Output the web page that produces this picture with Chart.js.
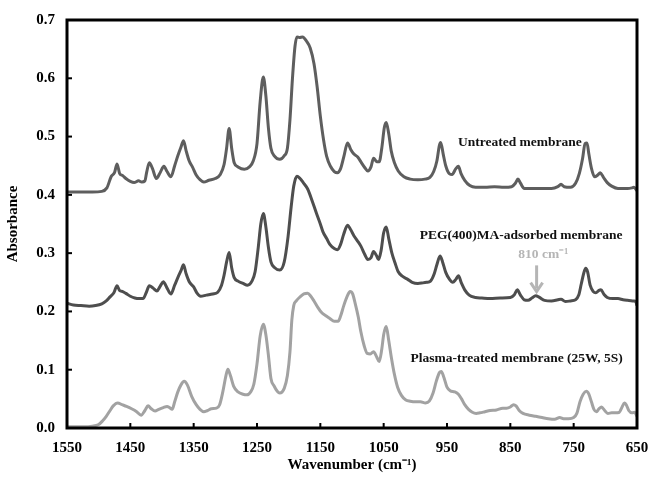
<!DOCTYPE html>
<html>
<head>
<meta charset="utf-8">
<script src="https://cdn.jsdelivr.net/npm/chart.js@4.4.1/dist/chart.umd.min.js"></script>
<style>
  body { margin: 0; background: #fff; }
  #wrap { width: 650px; height: 477px; position: relative; }
</style>
</head>
<body>
<div id="wrap"><canvas id="ftirChart"></canvas></div>
<script>
// wavenumber (cm-1) and absorbance
const untreatedX = [1550,1530,1510,1495,1487,1480,1475,1471,1467,1462,1457,1450,1444,1437,1432,1427,1424,1420,1415,1409,1403,1397,1392,1386,1380,1375,1370,1366,1362,1357,1352,1346,1340,1334,1326,1316,1308,1302,1298,1294,1290,1286,1280,1270,1262,1256,1250,1245,1240,1236,1232,1228,1222,1214,1207,1202,1198,1194,1190,1187,1183,1178,1172,1166,1160,1155,1150,1145,1140,1134,1128,1123,1118,1113,1107,1102,1097,1091,1085,1080,1075,1070,1066,1061,1057,1053,1049,1046,1042,1038,1033,1027,1018,1008,996,985,977,971,966,962,960,956,952,946,942,936,932,928,922,914,905,890,875,860,848,842,838,834,828,815,800,785,775,770,765,755,747,741,736,732,729,726,722,717,712,708,703,697,690,680,665,658,655,652,650];
const untreatedY = [0.405,0.405,0.405,0.406,0.412,0.432,0.438,0.453,0.437,0.433,0.428,0.423,0.421,0.424,0.422,0.424,0.440,0.455,0.445,0.428,0.438,0.449,0.440,0.431,0.450,0.467,0.482,0.493,0.476,0.458,0.448,0.434,0.426,0.422,0.425,0.428,0.435,0.452,0.480,0.514,0.480,0.455,0.448,0.444,0.448,0.458,0.488,0.560,0.602,0.570,0.515,0.480,0.466,0.461,0.467,0.480,0.528,0.600,0.655,0.671,0.670,0.671,0.664,0.652,0.625,0.585,0.535,0.495,0.466,0.449,0.440,0.438,0.445,0.465,0.489,0.478,0.470,0.465,0.455,0.447,0.441,0.448,0.463,0.457,0.457,0.480,0.515,0.524,0.505,0.475,0.455,0.441,0.431,0.427,0.426,0.427,0.430,0.440,0.458,0.485,0.490,0.470,0.450,0.436,0.435,0.445,0.449,0.437,0.425,0.416,0.413,0.413,0.414,0.413,0.414,0.420,0.427,0.420,0.411,0.411,0.411,0.411,0.414,0.418,0.414,0.413,0.420,0.437,0.462,0.488,0.489,0.470,0.446,0.431,0.434,0.438,0.430,0.421,0.415,0.411,0.411,0.412,0.413,0.410,0.407];

const pegX = [1550,1540,1528,1515,1505,1495,1488,1482,1476,1471,1467,1462,1457,1450,1443,1436,1430,1425,1420,1414,1408,1403,1398,1392,1386,1380,1375,1370,1366,1362,1357,1350,1345,1339,1330,1320,1312,1306,1302,1298,1294,1290,1286,1280,1272,1265,1258,1253,1248,1244,1240,1236,1232,1228,1222,1214,1207,1201,1196,1192,1187,1182,1177,1170,1163,1156,1150,1146,1140,1135,1128,1123,1118,1113,1107,1102,1097,1092,1086,1080,1075,1070,1066,1061,1058,1054,1050,1046,1042,1037,1032,1027,1020,1012,1005,996,988,982,976,970,966,961,957,952,946,941,936,932,927,922,915,905,895,882,866,850,844,839,834,828,822,816,810,804,796,785,775,770,763,755,747,742,738,734,731,728,724,719,715,710,707,702,697,688,680,672,665,655,652,650];
const pegY = [0.214,0.211,0.210,0.209,0.210,0.213,0.218,0.225,0.232,0.244,0.236,0.234,0.231,0.226,0.223,0.222,0.222,0.232,0.244,0.240,0.235,0.243,0.251,0.240,0.230,0.245,0.258,0.270,0.280,0.265,0.251,0.242,0.232,0.226,0.228,0.230,0.233,0.245,0.262,0.285,0.301,0.275,0.258,0.252,0.248,0.245,0.252,0.268,0.310,0.350,0.368,0.345,0.310,0.285,0.275,0.271,0.285,0.328,0.380,0.415,0.432,0.428,0.421,0.410,0.390,0.368,0.350,0.337,0.325,0.315,0.308,0.306,0.315,0.333,0.348,0.340,0.330,0.322,0.312,0.298,0.289,0.292,0.303,0.295,0.289,0.305,0.335,0.345,0.325,0.300,0.283,0.268,0.260,0.255,0.250,0.248,0.249,0.250,0.252,0.265,0.280,0.295,0.285,0.267,0.255,0.250,0.255,0.261,0.248,0.237,0.228,0.224,0.223,0.222,0.223,0.224,0.228,0.237,0.228,0.220,0.219,0.223,0.227,0.224,0.219,0.218,0.220,0.221,0.217,0.218,0.220,0.228,0.247,0.266,0.274,0.268,0.245,0.234,0.232,0.236,0.237,0.229,0.224,0.222,0.222,0.220,0.219,0.218,0.217,0.210];

const plasmaX = [1550,1540,1525,1510,1500,1494,1488,1482,1477,1470,1463,1456,1448,1440,1433,1427,1422,1417,1411,1405,1398,1392,1388,1384,1380,1375,1370,1365,1360,1353,1346,1340,1334,1328,1322,1314,1309,1304,1299,1296,1292,1287,1280,1272,1266,1260,1255,1250,1245,1240,1236,1232,1228,1223,1218,1214,1207,1202,1198,1195,1192,1188,1182,1176,1170,1165,1160,1154,1148,1142,1135,1128,1122,1118,1113,1108,1103,1099,1095,1090,1086,1081,1076,1071,1066,1061,1057,1053,1050,1046,1042,1038,1033,1028,1022,1015,1008,1000,992,984,978,972,967,962,959,955,950,945,938,932,927,922,916,910,904,898,890,882,872,862,856,850,845,841,836,830,820,810,800,790,780,772,766,758,750,745,740,735,730,726,722,718,714,710,706,701,696,690,684,678,674,670,667,663,658,654,650];
const plasmaY = [0.002,0.002,0.002,0.003,0.006,0.012,0.020,0.030,0.038,0.043,0.040,0.037,0.033,0.028,0.022,0.030,0.038,0.033,0.029,0.032,0.035,0.037,0.035,0.032,0.045,0.062,0.074,0.080,0.074,0.054,0.040,0.032,0.028,0.030,0.033,0.034,0.040,0.062,0.090,0.101,0.090,0.072,0.062,0.058,0.057,0.062,0.075,0.110,0.158,0.178,0.160,0.125,0.085,0.072,0.063,0.060,0.068,0.090,0.130,0.185,0.210,0.218,0.225,0.230,0.231,0.226,0.218,0.207,0.198,0.193,0.188,0.183,0.183,0.192,0.210,0.225,0.234,0.230,0.214,0.190,0.165,0.142,0.128,0.127,0.131,0.122,0.114,0.135,0.160,0.174,0.150,0.122,0.092,0.070,0.056,0.048,0.046,0.045,0.045,0.043,0.046,0.060,0.080,0.095,0.097,0.087,0.070,0.064,0.062,0.058,0.050,0.040,0.032,0.027,0.025,0.026,0.028,0.030,0.031,0.034,0.034,0.036,0.040,0.038,0.030,0.025,0.022,0.020,0.018,0.016,0.015,0.018,0.016,0.016,0.018,0.025,0.045,0.058,0.063,0.058,0.045,0.032,0.028,0.033,0.036,0.030,0.025,0.026,0.026,0.027,0.035,0.043,0.040,0.030,0.026,0.027,0.020];

const seriesNames = ["Untreated membrane", "PEG(400)MA-adsorbed membrane", "Plasma-treated membrane (25W, 5S)"];
const xTicks = [1550, 1450, 1350, 1250, 1150, 1050, 950, 850, 750, 650];
const yTicks = [0, 0.1, 0.2, 0.3, 0.4, 0.5, 0.6, 0.7];

function toPoints(xs, ys) {
  return xs.map((x, i) => ({ x: x, y: ys[i] }));
}

const serif = "'Liberation Serif', 'Times New Roman', serif";

// frame, inward ticks, curve labels and the 810 cm-1 arrow
const decorations = {
  id: "decorations",
  afterDatasetsDraw(chart) {
    const ctx = chart.ctx;
    const a = chart.chartArea;
    const xs = chart.scales.x;
    const ys = chart.scales.y;
    ctx.save();

    ctx.strokeStyle = "#000";
    ctx.lineWidth = 2;
    xTicks.forEach(v => {
      const px = xs.getPixelForValue(v);
      ctx.beginPath();
      ctx.moveTo(px, a.bottom);
      ctx.lineTo(px, a.bottom - 5);
      ctx.stroke();
    });
    yTicks.forEach(v => {
      const py = ys.getPixelForValue(v);
      ctx.beginPath();
      ctx.moveTo(a.left, py);
      ctx.lineTo(a.left + 5, py);
      ctx.stroke();
    });

    ctx.lineWidth = 3;
    ctx.strokeRect(a.left, a.top, a.right - a.left, a.bottom - a.top);

    ctx.font = "bold 13.5px " + serif;
    ctx.fillStyle = "#111";
    ctx.textAlign = "center";
    ctx.textBaseline = "middle";
    ctx.fillText(seriesNames[0], xs.getPixelForValue(835), ys.getPixelForValue(0.489));
    ctx.fillText(seriesNames[1], xs.getPixelForValue(833), ys.getPixelForValue(0.331));
    ctx.fillText(seriesNames[2], xs.getPixelForValue(840), ys.getPixelForValue(0.120));

    ctx.fillStyle = "#b5b5b5";
    ctx.strokeStyle = "#b5b5b5";
    ctx.fillText("810 cm\u207B\u00B9", xs.getPixelForValue(798), ys.getPixelForValue(0.297));
    const ax = xs.getPixelForValue(808.5);
    const ay1 = ys.getPixelForValue(0.279);
    const ay2 = ys.getPixelForValue(0.234);
    ctx.lineWidth = 3;
    ctx.beginPath();
    ctx.moveTo(ax, ay1);
    ctx.lineTo(ax, ay2 - 3);
    ctx.stroke();
    ctx.beginPath();
    ctx.moveTo(ax - 6, ay2 - 9);
    ctx.lineTo(ax, ay2);
    ctx.lineTo(ax + 6, ay2 - 9);
    ctx.stroke();

    ctx.restore();
  }
};

const ctx = document.getElementById("ftirChart").getContext("2d");
new Chart(ctx, {
  type: "line",
  data: {
    datasets: [
      { label: seriesNames[0], data: toPoints(untreatedX, untreatedY), borderColor: "#5e5e5e" },
      { label: seriesNames[1], data: toPoints(pegX, pegY), borderColor: "#4e4e4e" },
      { label: seriesNames[2], data: toPoints(plasmaX, plasmaY), borderColor: "#a2a2a2" }
    ]
  },
  options: {
    responsive: true,
    maintainAspectRatio: false,
    animation: false,
    layout: { padding: { top: 20, right: 13, left: 0, bottom: 0 } },
    elements: {
      point: { radius: 0 },
      line: { borderWidth: 3, cubicInterpolationMode: "monotone" }
    },
    plugins: { legend: { display: false }, tooltip: { enabled: false } },
    scales: {
      x: {
        type: "linear",
        reverse: true,
        min: 650,
        max: 1550,
        afterFit: s => { s.height = 49; s.paddingLeft = 0; s.paddingRight = 0; },
        grid: { display: false, drawTicks: false },
        border: { display: false },
        ticks: { stepSize: 100, padding: 11, color: "#000", maxRotation: 0,
                 callback: v => String(v),
                 font: { family: serif, size: 15, weight: "bold" } },
        title: { display: true, text: "Wavenumber (cm\u207B\u00B9)", color: "#000",
                 padding: { top: 0, bottom: 3 },
                 font: { family: serif, size: 15, weight: "bold" } }
      },
      y: {
        min: 0,
        max: 0.7,
        afterFit: s => { s.width = 67; s.paddingTop = 0; s.paddingBottom = 0; },
        grid: { display: false, drawTicks: false },
        border: { display: false },
        ticks: { stepSize: 0.1, padding: 12, color: "#000",
                 callback: v => v.toFixed(1),
                 font: { family: serif, size: 15, weight: "bold" } },
        title: { display: true, text: "Absorbance", color: "#000",
                 padding: { top: 4, bottom: 0 },
                 font: { family: serif, size: 15, weight: "bold" } }
      }
    }
  },
  plugins: [decorations]
});
</script>
</body>
</html>
